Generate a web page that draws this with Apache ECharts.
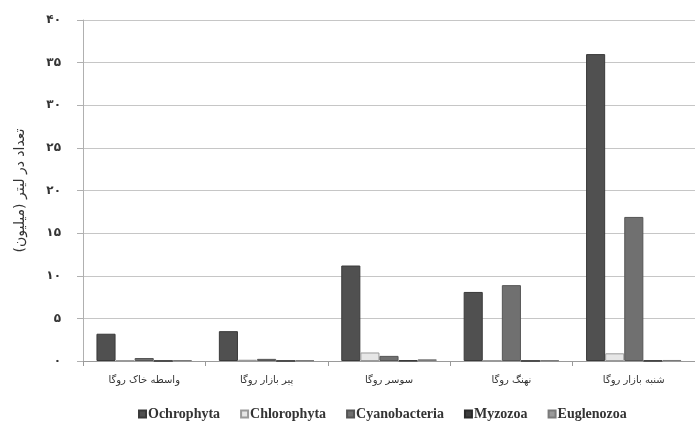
<!DOCTYPE html>
<html>
<head>
<meta charset="utf-8">
<script src="https://cdn.jsdelivr.net/npm/echarts@6/dist/echarts.min.js"></script>
<style>
  html, body { margin: 0; padding: 0; background: #fff; }
  #chart { width: 695px; height: 426px; }
</style>
</head>
<body>
<div id="chart"></div>
<script>
// Sampling stations (x axis)
const stations = ['واسطه خاک روگا', 'پیر بازار روگا', 'سوسر روگا', 'نهنگ روگا', 'شنبه بازار روگا'];

// Abundance per litre (millions) for each phylum
const ochrophyta    = [3.2, 3.5, 11.2, 8.1, 36.0];
const chlorophyta   = [0.1, 0.15, 1.0, 0.1, 0.9];
const cyanobacteria = [0.35, 0.25, 0.6, 8.9, 16.9];
const myzozoa       = [0.02, 0.02, 0.05, 0.02, 0.03];
const euglenozoa    = [0.1, 0.08, 0.2, 0.08, 0.12];

const seriesNames = ['Ochrophyta', 'Chlorophyta', 'Cyanobacteria', 'Myzozoa', 'Euglenozoa'];
const seriesData  = [ochrophyta, chlorophyta, cyanobacteria, myzozoa, euglenozoa];
const fills   = ['#505050', '#e6e6e6', '#707070', '#3c3c3c', '#9a9a9a'];
const borders = ['#3a3a3a', '#9a9a9a', '#555555', '#2a2a2a', '#7a7a7a'];

// Persian digits for the value axis
const faDigits = '۰۱۲۳۴۵۶۷۸۹';
const toFa = v => String(v).replace(/[0-9]/g, d => faDigits[d]);

const chart = echarts.init(document.getElementById('chart'), null, { renderer: 'canvas' });

chart.setOption({
  animation: false,
  textStyle: { fontFamily: 'DejaVu Sans' },
  grid: { left: 83, right: -8, top: 20, bottom: 65, containLabel: false },
  legend: {
    left: 133,
    top: 402,
    itemWidth: 7,
    itemHeight: 7,
    itemGap: 20,
    icon: 'rect',
    textStyle: { fontFamily: 'Liberation Serif', fontWeight: 'bold', fontSize: 14, color: '#333', padding: [0, 0, 0, -3] },
    data: seriesNames
  },
  xAxis: {
    type: 'category',
    data: stations,
    axisLine: { lineStyle: { color: '#9a9a9a', width: 1 } },
    axisTick: { show: true, length: 5, lineStyle: { color: '#9a9a9a' } },
    axisLabel: { fontFamily: 'DejaVu Sans', fontSize: 10, color: '#333', margin: 14 }
  },
  yAxis: {
    type: 'value',
    min: 0,
    max: 40,
    interval: 5,
    name: 'تعداد در لیتر (میلیون)',
    nameLocation: 'middle',
    nameGap: 56,
    nameTextStyle: { fontFamily: 'DejaVu Sans', fontSize: 14, color: '#333' },
    axisLine: { show: true, lineStyle: { color: '#b0b0b0' } },
    axisTick: { show: true, length: 6, lineStyle: { color: '#b0b0b0' } },
    axisLabel: { formatter: toFa, fontFamily: 'DejaVu Sans', fontSize: 12, fontWeight: 'bold', color: '#333', margin: 22 },
    splitLine: { lineStyle: { color: '#c6c6c6', width: 1 } }
  },
  series: seriesNames.map((name, i) => ({
    name: name,
    type: 'bar',
    data: seriesData[i],
    barGap: '0%',
    barCategoryGap: '22%',
    itemStyle: { color: fills[i], borderColor: borders[i], borderWidth: 1 }
  }))
});
</script>
</body>
</html>
